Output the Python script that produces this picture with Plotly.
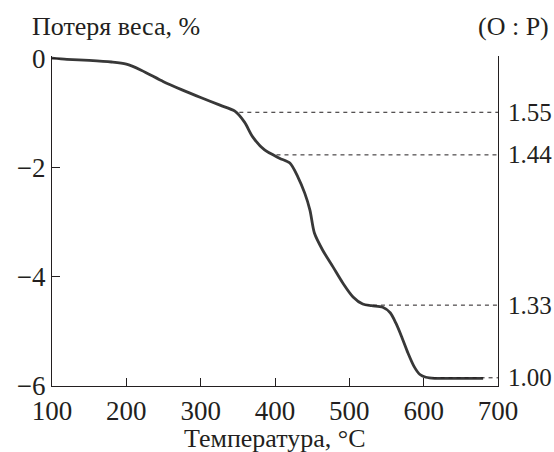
import plotly.graph_objects as go

# Temperature (°C) and weight loss (%)
temperature = [100, 120, 150, 180, 200, 220, 250, 275, 300, 326, 346, 359, 370, 386, 406,
               420, 431, 440, 447, 453, 464, 478, 491, 505, 518, 530, 545, 555, 563, 571,
               579, 587, 595, 603, 615, 640, 680]
weight_loss = [0.0, -0.02, -0.04, -0.07, -0.11, -0.22, -0.43, -0.58, -0.72, -0.86, -0.97,
               -1.17, -1.44, -1.68, -1.83, -1.92, -2.18, -2.47, -2.78, -3.20, -3.51, -3.82,
               -4.11, -4.37, -4.50, -4.53, -4.56, -4.66, -4.86, -5.12, -5.40, -5.64, -5.79,
               -5.84, -5.86, -5.86, -5.86]

# O:P ratio marks: start temperature of dashed line, weight level, label
ratio_temp = [352, 402, 521, 612]
ratio_level = [-0.99, -1.77, -4.52, -5.85]
ratio_label = ["1.55", "1.44", "1.33", "1.00"]

x_ticks = [100, 200, 300, 400, 500, 600, 700]
y_ticks = [0, -2, -4, -6]

FONT = "Times New Roman, Liberation Serif, DejaVu Serif, serif"
INK = "#231f20"

fig = go.Figure()
fig.add_trace(go.Scatter(x=temperature, y=weight_loss, mode="lines",
                         line=dict(color="#383838", width=2.8, shape="spline", smoothing=0.8),
                         hoverinfo="skip", showlegend=False))

for t, lvl in zip(ratio_temp, ratio_level):
    fig.add_shape(type="line", xref="x", yref="y", x0=t, x1=700, y0=lvl, y1=lvl,
                  line=dict(color=INK, width=1, dash="4px,4px"))

for lvl, lab in zip(ratio_level, ratio_label):
    fig.add_annotation(x=700, y=lvl, xref="x", yref="y", text=lab, showarrow=False,
                       xanchor="left", yanchor="middle", xshift=8,
                       font=dict(family=FONT, size=25, color=INK))

fig.add_annotation(x=-0.05, y=1.09, xref="paper", yref="paper", text="Потеря веса, %",
                   showarrow=False, xanchor="left", yanchor="middle",
                   font=dict(family=FONT, size=26, color=INK))
fig.add_annotation(x=1.118, y=1.09, xref="paper", yref="paper", text="(O : P)",
                   showarrow=False, xanchor="right", yanchor="middle",
                   font=dict(family=FONT, size=26, color=INK))
fig.add_annotation(x=0.5, y=-0.16, xref="paper", yref="paper", text="Температура, °C",
                   showarrow=False, xanchor="center", yanchor="middle",
                   font=dict(family=FONT, size=26, color=INK))

fig.update_layout(
    width=554, height=452,
    margin=dict(l=52, r=56, t=56, b=66),
    paper_bgcolor="white", plot_bgcolor="white",
    font=dict(family=FONT, size=27, color=INK),
    xaxis=dict(range=[100, 700], tickmode="array", tickvals=x_ticks,
               ticktext=[str(v) for v in x_ticks],
               tickfont=dict(family=FONT, size=27, color=INK),
               showline=True, linecolor=INK, linewidth=1.3, ticks="inside", ticklen=8,
               tickwidth=1.3, tickcolor=INK, showgrid=False, zeroline=False, mirror=False,
               fixedrange=True),
    yaxis=dict(range=[-6, 0.04], tickmode="array", tickvals=y_ticks,
               ticktext=["0", "−2", "−4", "−6"],
               tickfont=dict(family=FONT, size=27, color=INK),
               showline=True, linecolor=INK, linewidth=1.3, ticks="inside", ticklen=8,
               tickwidth=1.3, tickcolor=INK, showgrid=False, zeroline=False, mirror=True,
               fixedrange=True),
)

fig.write_html("out.html", config={"displayModeBar": False},
               post_script="document.body.style.margin='0';")
